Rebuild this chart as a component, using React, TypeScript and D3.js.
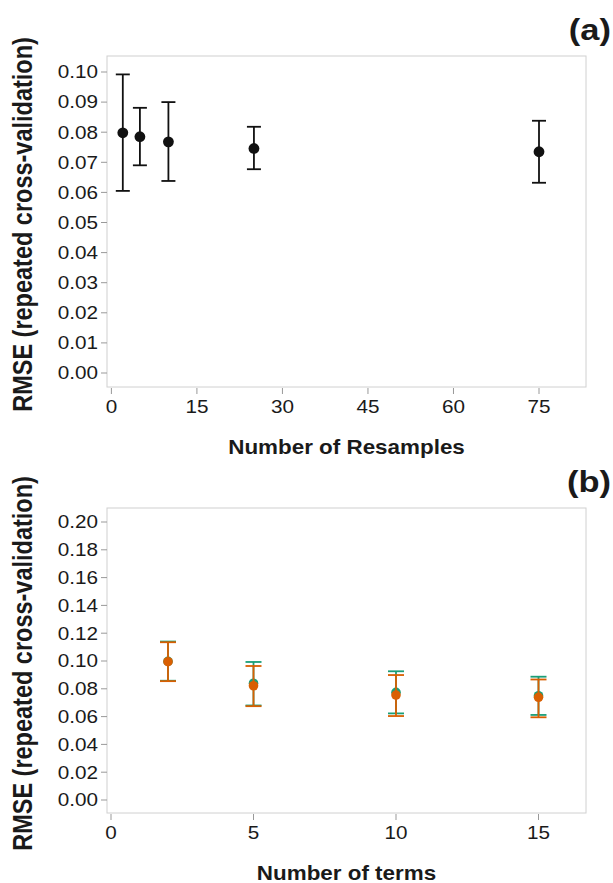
import React, { useRef, useEffect } from "react";
import * as d3 from "d3";

// panel (a): RMSE vs number of resamples
const resamples = [2, 5, 10, 25, 75];
const rmseA = [0.0798, 0.0785, 0.0768, 0.0746, 0.0735];
const lowerA = [0.0605, 0.069, 0.0638, 0.0677, 0.0632];
const upperA = [0.0992, 0.0881, 0.09, 0.0818, 0.0838];
const xTicksA = [0, 15, 30, 45, 60, 75];
const yTicksA = [0, 0.01, 0.02, 0.03, 0.04, 0.05, 0.06, 0.07, 0.08, 0.09, 0.1];

// panel (b): RMSE vs number of terms, two models
const terms = [2, 5, 10, 15];
const rmseGreen = [0.0997, 0.084, 0.0775, 0.075];
const lowerGreen = [0.0858, 0.068, 0.0623, 0.0612];
const upperGreen = [0.114, 0.0993, 0.0926, 0.0887];
const rmseOrange = [0.0995, 0.0822, 0.0755, 0.0739];
const lowerOrange = [0.0855, 0.0675, 0.0604, 0.0595];
const upperOrange = [0.1135, 0.0964, 0.0899, 0.0867];
const xTicksB = [0, 5, 10, 15];
const yTicksB = [0, 0.02, 0.04, 0.06, 0.08, 0.1, 0.12, 0.14, 0.16, 0.18, 0.2];

const W = 613;
const H = 883;
const STRETCH = 1.15; // text in the figure is a bit wider than normal
const FONT = "Liberation Sans, Arial, Helvetica, sans-serif";

const App = () => {
  const svgRef = useRef(null);

  useEffect(() => {
    const svg = d3.select(svgRef.current);
    svg.selectAll("*").remove();

    const label = (g, x, y, txt, size, weight, anchor) =>
      g
        .append("g")
        .attr("transform", `translate(${x},${y}) scale(${STRETCH},1)`)
        .append("text")
        .attr("text-anchor", anchor)
        .attr("dy", "0.35em")
        .attr("font-family", FONT)
        .attr("font-size", size)
        .attr("font-weight", weight)
        .attr("fill", "#1a1a1a")
        .text(txt);

    const panel = (cfg) => {
      const { top, bottom, x, y, xTicks, yTicks, yFmt, xTitle, tag, series, cap, r } = cfg;
      const g = svg.append("g");
      const left = 107;
      const right = 586;

      // frame
      g.append("rect")
        .attr("x", left)
        .attr("y", top)
        .attr("width", right - left)
        .attr("height", bottom - top)
        .attr("fill", "white")
        .attr("stroke", "#d0d0d0")
        .attr("stroke-width", 1);

      // y ticks
      yTicks.forEach((t) => {
        g.append("line")
          .attr("x1", left - 6)
          .attr("x2", left)
          .attr("y1", y(t))
          .attr("y2", y(t))
          .attr("stroke", "#999")
          .attr("stroke-width", 1);
        label(g, 98, y(t), yFmt(t), 18, "normal", "end");
      });

      // x ticks
      xTicks.forEach((t) => {
        g.append("line")
          .attr("x1", x(t))
          .attr("x2", x(t))
          .attr("y1", bottom + 1)
          .attr("y2", bottom + 7)
          .attr("stroke", "#999")
          .attr("stroke-width", 1);
        label(g, x(t), bottom + 20, String(t), 18, "normal", "middle");
      });

      // titles
      label(g, (left + right) / 2, bottom + 60, xTitle, 19.5, "bold", "middle");
      g.append("g")
        .attr("transform", `translate(23,${(top + bottom) / 2 + 3}) scale(${STRETCH},1) rotate(-90)`)
        .append("text")
        .attr("text-anchor", "middle")
        .attr("dy", "0.35em")
        .attr("font-family", FONT)
        .attr("font-size", 23.5)
        .attr("font-weight", "bold")
        .attr("fill", "#1a1a1a")
        .text("RMSE (repeated cross-validation)");
      label(g, 611, tag.y, tag.text, 30, "bold", "end");

      // error bars + points
      series.forEach((s) => {
        const sg = g.append("g");
        s.xs.forEach((xv, i) => {
          const cx = x(xv);
          sg.append("line")
            .attr("x1", cx)
            .attr("x2", cx)
            .attr("y1", y(s.lower[i]))
            .attr("y2", y(s.upper[i]))
            .attr("stroke", s.color)
            .attr("stroke-width", 1.8);
          [s.lower[i], s.upper[i]].forEach((v) => {
            sg.append("line")
              .attr("x1", cx - cap)
              .attr("x2", cx + cap)
              .attr("y1", y(v))
              .attr("y2", y(v))
              .attr("stroke", s.color)
              .attr("stroke-width", 1.8);
          });
          sg.append("circle")
            .attr("cx", cx)
            .attr("cy", y(s.mean[i]))
            .attr("r", r)
            .attr("fill", s.color);
        });
      });
    };

    const xA = d3.scaleLinear().domain([0, 75]).range([111.4, 539]);
    const yA = d3.scaleLinear().domain([0, 0.1]).range([373, 72]);
    panel({
      top: 56,
      bottom: 387,
      x: xA,
      y: yA,
      xTicks: xTicksA,
      yTicks: yTicksA,
      yFmt: d3.format(".2f"),
      xTitle: "Number of Resamples",
      tag: { text: "(a)", y: 29 },
      cap: 7,
      r: 5.4,
      series: [{ xs: resamples, mean: rmseA, lower: lowerA, upper: upperA, color: "#111" }],
    });

    const xB = d3.scaleLinear().domain([0, 15]).range([111, 538.5]);
    const yB = d3.scaleLinear().domain([0, 0.2]).range([800, 522]);
    panel({
      top: 508,
      bottom: 813,
      x: xB,
      y: yB,
      xTicks: xTicksB,
      yTicks: yTicksB,
      yFmt: d3.format(".2f"),
      xTitle: "Number of terms",
      tag: { text: "(b)", y: 481 },
      cap: 8,
      r: 4.8,
      series: [
        { xs: terms, mean: rmseGreen, lower: lowerGreen, upper: upperGreen, color: "#1b9e77" },
        { xs: terms, mean: rmseOrange, lower: lowerOrange, upper: upperOrange, color: "#d95f02" },
      ],
    });
  }, []);

  return (
    <svg
      ref={svgRef}
      width={W}
      height={H}
      style={{ position: "absolute", left: 0, top: 0, display: "block", background: "white" }}
    ></svg>
  );
};

export default App;
